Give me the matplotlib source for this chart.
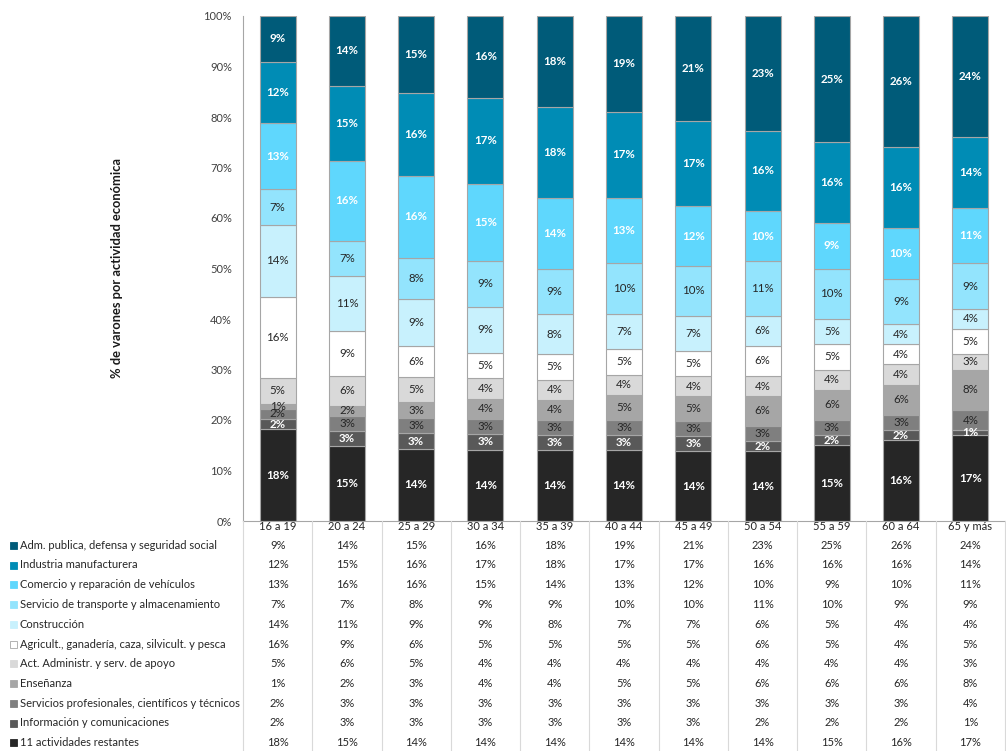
import matplotlib
matplotlib.use("Agg")
import matplotlib.pyplot as plt
import numpy as np
from matplotlib.patches import Rectangle

plt.rcParams['font.family'] = ['Lato', 'DejaVu Sans']

categories = ["16 a 19", "20 a 24", "25 a 29", "30 a 34", "35 a 39", "40 a 44",
              "45 a 49", "50 a 54", "55 a 59", "60 a 64", "65 y más"]

series_names = [
    "Adm. publica, defensa y seguridad social",
    "Industria manufacturera",
    "Comercio y reparación de vehículos",
    "Servicio de transporte y almacenamiento",
    "Construcción",
    "Agricult., ganadería, caza, silvicult. y pesca",
    "Act. Administr. y serv. de apoyo",
    "Enseñanza",
    "Servicios profesionales, científicos y técnicos",
    "Información y comunicaciones",
    "11 actividades restantes",
]

adm = [9, 14, 15, 16, 18, 19, 21, 23, 25, 26, 24]
industria = [12, 15, 16, 17, 18, 17, 17, 16, 16, 16, 14]
comercio = [13, 16, 16, 15, 14, 13, 12, 10, 9, 10, 11]
transporte = [7, 7, 8, 9, 9, 10, 10, 11, 10, 9, 9]
construccion = [14, 11, 9, 9, 8, 7, 7, 6, 5, 4, 4]
agricultura = [16, 9, 6, 5, 5, 5, 5, 6, 5, 4, 5]
act_admin = [5, 6, 5, 4, 4, 4, 4, 4, 4, 4, 3]
ensenanza = [1, 2, 3, 4, 4, 5, 5, 6, 6, 6, 8]
serv_prof = [2, 3, 3, 3, 3, 3, 3, 3, 3, 3, 4]
informacion = [2, 3, 3, 3, 3, 3, 3, 2, 2, 2, 1]
restantes = [18, 15, 14, 14, 14, 14, 14, 14, 15, 16, 17]

series = [adm, industria, comercio, transporte, construccion, agricultura,
          act_admin, ensenanza, serv_prof, informacion, restantes]

colors = ["#005b79", "#008cb5", "#5fd7fd", "#93e4fd", "#c8f1fd", "#ffffff",
          "#d9d9d9", "#a6a6a6", "#7f7f7f", "#595959", "#262626"]
label_white = [True, True, True, False, False, False, False, False, False, True, True]

W, H = 1006, 751
fig = plt.figure(figsize=(W / 100, H / 100), dpi=100)

ax_left, ax_right, ax_top, ax_bottom = 243, 1005, 16, 521
ax = fig.add_axes([ax_left / W, 1 - ax_bottom / H, (ax_right - ax_left) / W, (ax_bottom - ax_top) / H])

n = len(categories)
x = np.arange(n)
data = np.array(series, dtype=float)
totals = data.sum(axis=0)
norm = data / totals * 100

# draw from bottom (restantes) to top (adm)
bottom = np.zeros(n)
for idx in range(len(series) - 1, -1, -1):
    vals = norm[idx]
    ax.bar(x, vals, bottom=bottom, width=0.52, color=colors[idx],
           edgecolor="#a6a6a6", linewidth=0.8, zorder=2)
    for j in range(n):
        c = "white" if label_white[idx] else "#262626"
        fw = "bold" if label_white[idx] else "normal"
        ax.text(x[j], bottom[j] + vals[j] / 2, f"{series[idx][j]}%", ha="center", va="center",
                fontsize=8.3, color=c, fontweight=fw, zorder=3)
    bottom += vals

ax.set_xlim(-0.5, n - 0.5)
ax.set_ylim(0, 100)
ax.set_yticks(np.arange(0, 101, 10))
ax.set_yticklabels([f"{v}%" for v in range(0, 101, 10)], fontsize=8, color="#404040")
ax.tick_params(axis="y", length=0, pad=8)
ax.set_xticks([])
for s in ["top", "right"]:
    ax.spines[s].set_visible(False)
ax.spines["left"].set_color("#a6a6a6")
ax.spines["bottom"].set_color("#a6a6a6")
ax.set_ylabel("% de varones por actividad económica", fontsize=9.3, fontweight="bold",
              color="#1a1a1a", labelpad=58)

# data table below
col_w = (ax_right - ax_left) / n
row_y0 = 527
row_step = 19.75
for k in range(n + 1):
    xl = ax_left + k * col_w
    fig.add_artist(plt.Line2D([xl / W, xl / W], [1 - ax_bottom / H, 0], color="#d9d9d9",
                              linewidth=0.8, transform=fig.transFigure))
for j in range(n):
    cx = ax_left + (j + 0.5) * col_w
    fig.text(cx / W, 1 - row_y0 / H, categories[j], ha="center", va="center", fontsize=8,
             color="#262626")
for i in range(len(series)):
    yy = row_y0 + (i + 1) * row_step - 1.5
    fig.add_artist(Rectangle((10 / W, 1 - (yy + 3.5) / H), 7 / W, 7 / H, transform=fig.transFigure,
                             facecolor=colors[i], edgecolor="#a6a6a6" if colors[i] == "#ffffff" else colors[i],
                             linewidth=0.6))
    fig.text(20 / W, 1 - yy / H, series_names[i], ha="left", va="center", fontsize=8,
             color="#262626")
    for j in range(n):
        cx = ax_left + (j + 0.5) * col_w
        fig.text(cx / W, 1 - yy / H, f"{series[i][j]}%", ha="center", va="center", fontsize=8,
                 color="#262626")

fig.savefig("out.png", dpi=100)
